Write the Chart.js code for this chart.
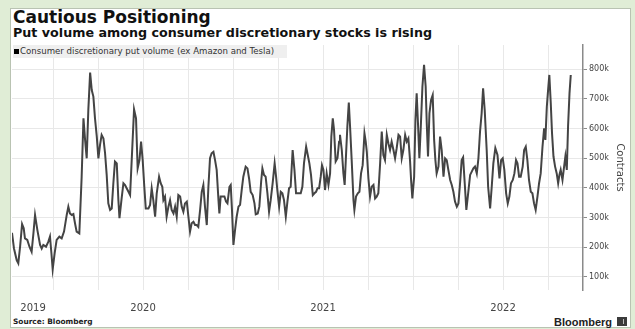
<!DOCTYPE html>
<html>
<head>
<meta charset="utf-8">
<script src="https://cdn.jsdelivr.net/npm/chart.js@4.4.1/dist/chart.umd.min.js"></script>
<style>
  html, body { margin: 0; padding: 0; }
  body { width: 635px; height: 329px; background: #e0edd6; position: relative; overflow: hidden; font-family: 'DejaVu Sans', sans-serif; }
  #panel { position: absolute; left: 10px; top: 8px; width: 619px; height: 318px; background: #fff; border: 1px solid #b9c3b2; }
  #chart { position: absolute; left: 0; top: 0; }
  .txt { position: absolute; white-space: nowrap; color: #111; }
  #title { left: 13px; top: 9px; font-weight: bold; font-size: 17px; line-height: 17px; }
  #subtitle { left: 13px; top: 27px; font-weight: bold; font-size: 12.7px; line-height: 12.7px; }
  #legend { position: absolute; left: 13px; top: 45px; width: 274px; height: 13px; background: #efefef; }
  #legend .sq { position: absolute; left: 1px; top: 3.5px; width: 5px; height: 5px; background: #000; }
  #legend .lbl { position: absolute; left: 7px; top: 0; font-size: 8.6px; line-height: 13px; color: #333; white-space: nowrap; }
  #source { left: 13px; top: 318px; font-weight: bold; font-size: 7.4px; line-height: 8px; color: #222; }
  #brand { left: 554px; top: 317px; font-family: 'Liberation Sans', sans-serif; font-weight: bold; font-size: 11px; line-height: 11px; color: #222; }
  #icon { position: absolute; left: 617px; top: 317px; width: 10px; height: 9px; background: #3b3b3b; }
  #icon i { position: absolute; left: 2px; top: 2px; width: 4px; height: 5px; border-right: 1px solid #bbb; }
</style>
</head>
<body>
<div id="panel"></div>
<div class="txt" id="title">Cautious Positioning</div>
<div class="txt" id="subtitle">Put volume among consumer discretionary stocks is rising</div>
<div class="txt" id="source">Source: Bloomberg</div>
<div class="txt" id="brand">Bloomberg</div>
<div id="icon"><i></i></div>
<canvas id="chart" width="635" height="329"></canvas>
<div id="legend"><div class="sq"></div><div class="lbl">Consumer discretionary put volume (ex Amazon and Tesla)</div></div>
<script>
// Put volume, thousands of contracts (dates as decimal years)
const dates = [
  2019.272, 2019.283, 2019.298, 2019.307, 2019.317, 2019.328, 2019.337, 2019.344, 2019.357, 2019.369,
  2019.381, 2019.391, 2019.400, 2019.413, 2019.428, 2019.437, 2019.446, 2019.461, 2019.474, 2019.483,
  2019.491, 2019.498, 2019.509, 2019.520, 2019.535, 2019.548, 2019.561, 2019.576, 2019.585, 2019.594,
  2019.604, 2019.613, 2019.622, 2019.631, 2019.646, 2019.659, 2019.669, 2019.678, 2019.687, 2019.696,
  2019.706, 2019.715, 2019.724, 2019.733, 2019.743, 2019.752, 2019.761, 2019.770, 2019.780, 2019.789,
  2019.798, 2019.807, 2019.817, 2019.826, 2019.835, 2019.844, 2019.854, 2019.863, 2019.869, 2019.881,
  2019.891, 2019.900, 2019.909, 2019.919, 2019.928, 2019.937, 2019.950, 2019.961, 2019.970, 2019.980,
  2019.989, 2019.998, 2020.007, 2020.015, 2020.030, 2020.039, 2020.048, 2020.057, 2020.067, 2020.076,
  2020.089, 2020.098, 2020.107, 2020.113, 2020.122, 2020.131, 2020.141, 2020.150, 2020.159, 2020.169,
  2020.178, 2020.187, 2020.196, 2020.206, 2020.215, 2020.224, 2020.233, 2020.243, 2020.252, 2020.261,
  2020.270, 2020.280, 2020.289, 2020.298, 2020.307, 2020.317, 2020.326, 2020.335,
  2020.344, 2020.354, 2020.363, 2020.372, 2020.381, 2020.391, 2020.400, 2020.409, 2020.419, 2020.424,
  2020.431, 2020.443, 2020.452, 2020.461, 2020.469, 2020.480, 2020.487, 2020.494, 2020.502, 2020.511,
  2020.520, 2020.530, 2020.539, 2020.548, 2020.557, 2020.570, 2020.580, 2020.589, 2020.598, 2020.609,
  2020.619, 2020.626, 2020.637, 2020.646, 2020.656, 2020.663, 2020.672, 2020.681, 2020.691, 2020.700,
  2020.709, 2020.720, 2020.731, 2020.739, 2020.746, 2020.756, 2020.765, 2020.774, 2020.783, 2020.793,
  2020.802, 2020.811, 2020.820, 2020.831, 2020.841, 2020.850, 2020.857, 2020.867, 2020.876, 2020.885,
  2020.894, 2020.906, 2020.915, 2020.924, 2020.933, 2020.943, 2020.952, 2020.961, 2020.969, 2020.978,
  2020.987, 2020.994, 2021.002, 2021.011, 2021.020, 2021.030, 2021.039, 2021.046, 2021.054, 2021.061,
  2021.070, 2021.080, 2021.089, 2021.094, 2021.104, 2021.113, 2021.120, 2021.128, 2021.135, 2021.143,
  2021.150, 2021.159, 2021.169, 2021.174, 2021.183, 2021.193, 2021.202, 2021.211, 2021.220, 2021.230,
  2021.237, 2021.243, 2021.252, 2021.261, 2021.270, 2021.280, 2021.289, 2021.298, 2021.307, 2021.317,
  2021.326, 2021.335, 2021.344, 2021.354, 2021.363, 2021.372, 2021.381, 2021.391,
  2021.400, 2021.409, 2021.419, 2021.428, 2021.437, 2021.446, 2021.456, 2021.465, 2021.474, 2021.483,
  2021.489, 2021.496, 2021.506, 2021.513, 2021.520, 2021.528, 2021.535, 2021.543, 2021.552, 2021.561,
  2021.570, 2021.576, 2021.583, 2021.591, 2021.600, 2021.609, 2021.617, 2021.624, 2021.631, 2021.641,
  2021.650, 2021.659, 2021.669, 2021.678, 2021.687, 2021.696, 2021.706, 2021.715, 2021.724, 2021.733,
  2021.743, 2021.752, 2021.761, 2021.770, 2021.778, 2021.787, 2021.796, 2021.806, 2021.817, 2021.826,
  2021.835, 2021.844, 2021.854, 2021.863, 2021.872, 2021.881, 2021.889, 2021.898, 2021.909, 2021.917,
  2021.928, 2021.937, 2021.946, 2021.957, 2021.969, 2021.980, 2021.989, 2021.998, 2022.007, 2022.017,
  2022.026, 2022.035, 2022.044, 2022.054, 2022.063, 2022.072, 2022.080, 2022.089, 2022.098, 2022.109,
  2022.117, 2022.126, 2022.135, 2022.144, 2022.154, 2022.163, 2022.172, 2022.181, 2022.191, 2022.200,
  2022.209, 2022.219, 2022.228, 2022.235, 2022.243, 2022.250, 2022.257, 2022.265, 2022.272, 2022.280,
  2022.289, 2022.298, 2022.306, 2022.313, 2022.320, 2022.330, 2022.339, 2022.346, 2022.354, 2022.361,
  2022.369, 2022.376
];
const volume = [
  249, 196, 157, 146, 202, 278, 264, 230, 225, 202,
  185, 247, 309, 258, 208, 196, 208, 202, 219, 236,
  180, 126, 180, 225, 236, 230, 253, 309, 337, 314,
  309, 312, 281, 253, 247, 438, 635, 562, 500, 663,
  789, 730, 708, 635, 573, 500, 545, 579, 567, 517,
  444, 348, 326, 331, 416, 489, 483, 359, 298, 365,
  416, 410, 399, 387, 376, 494, 665, 635, 466, 494,
  556, 494, 404, 331, 331, 343, 399, 359, 303, 382,
  438, 416, 404, 359, 371, 303, 337, 359, 326, 314,
  337, 303, 376, 371, 337, 320, 348, 354, 303, 253,
  281, 286, 275, 275, 269, 326, 387, 410,
  337, 275, 404, 500, 517, 522, 494, 461, 359, 314,
  371, 371, 371, 354, 348, 404, 410, 326, 208, 258,
  303, 337, 343, 393, 438, 472, 466, 432, 387, 376,
  348, 311, 314, 337, 421, 466, 444, 438, 382, 320,
  359, 416, 483, 438, 393, 337, 387, 382, 359, 303,
  354, 399, 404, 528, 461, 382, 382, 382, 382, 404,
  483, 539, 511, 483, 444, 376, 382, 387, 399, 399,
  438, 477, 461, 393, 449, 410, 449, 573, 635, 595,
  489, 500, 556, 579, 528, 449, 410, 517, 607, 688,
  607, 494, 359, 326, 371, 382, 387, 449, 477, 584,
  556, 522, 432, 371, 404, 410, 365, 371, 382, 483,
  590, 511, 494, 579, 550, 528, 556, 528,
  500, 534, 579, 573, 500, 528, 579, 556, 567, 494,
  427, 365, 438, 629, 719, 607, 500, 607, 742, 815,
  742, 618, 506, 652, 697, 713, 562, 494, 449, 472,
  573, 528, 438, 500, 494, 461, 427, 410, 387, 354,
  337, 348, 416, 494, 503, 416, 326, 382, 444, 455,
  466, 472, 449, 500, 590, 652, 736, 663, 528, 404,
  331, 404, 483, 534, 511, 432, 494, 500, 461, 382,
  348, 371, 416, 427, 449, 494, 483, 438, 438, 472,
  528, 539, 494, 427, 387, 382, 348, 326, 371, 416,
  449, 539, 601, 562, 674, 730, 781, 685, 584, 506,
  472, 449, 416, 444, 461, 427, 472, 506, 461, 607,
  719, 781
];

// Axis ticks
const yTicks = [100, 200, 300, 400, 500, 600, 700, 800];
const quarterTicks = [2019.5, 2019.75, 2020, 2020.25, 2020.5, 2020.75, 2021, 2021.25, 2021.5, 2021.75, 2022, 2022.25];
const firstYearLabelAt = 2019.389; // "2019" sits at the left edge, no grid line
const xMin = 2019.272, xMax = 2022.444;
const yMin = 56, yMax = 882;

const gridColor = '#e8e8e8';
const textColor = '#444';

new Chart(document.getElementById('chart'), {
    type: 'line',
    data: {
        datasets: [{
            label: 'Consumer discretionary put volume (ex Amazon and Tesla)',
            data: dates.map((d, i) => ({ x: d, y: volume[i] })),
            borderColor: '#444',
            borderWidth: 2,
            pointRadius: 0,
            tension: 0
        }]
    },
    options: {
        responsive: false,
        animation: false,
        layout: { padding: { left: 12, top: 45, right: 5, bottom: 0 } },
        plugins: { legend: { display: false }, tooltip: { enabled: false } },
        scales: {
            x: {
                type: 'linear',
                min: xMin,
                max: xMax,
                afterBuildTicks: s => { s.ticks = [firstYearLabelAt, ...quarterTicks].map(v => ({ value: v })); },
                afterFit: s => { s.height = 39; },
                border: { display: false },
                grid: {
                    drawTicks: false,
                    color: c => (c.tick && c.tick.value === firstYearLabelAt) ? 'rgba(0,0,0,0)' : gridColor
                },
                ticks: {
                    autoSkip: false,
                    maxRotation: 0,
                    padding: 12,
                    color: textColor,
                    font: { family: "'DejaVu Sans'", size: 10 },
                    callback: v => v === firstYearLabelAt ? '2019' : (Number.isInteger(v) ? String(v) : '')
                }
            },
            y: {
                position: 'right',
                min: yMin,
                max: yMax,
                afterBuildTicks: s => { s.ticks = yTicks.map(v => ({ value: v })); },
                afterFit: s => { s.width = 47; },
                border: { color: '#8a8a8a', width: 1.5 },
                grid: { color: gridColor, tickColor: '#8a8a8a', tickLength: 4 },
                ticks: {
                    padding: 2,
                    color: textColor,
                    font: { family: "'DejaVu Sans'", size: 8 },
                    callback: v => v + 'k'
                },
                title: {
                    display: true,
                    text: 'Contracts',
                    color: textColor,
                    font: { family: "'DejaVu Sans'", size: 10 },
                    padding: { top: 4, bottom: 0 }
                }
            }
        }
    }
});
</script>
</body>
</html>
